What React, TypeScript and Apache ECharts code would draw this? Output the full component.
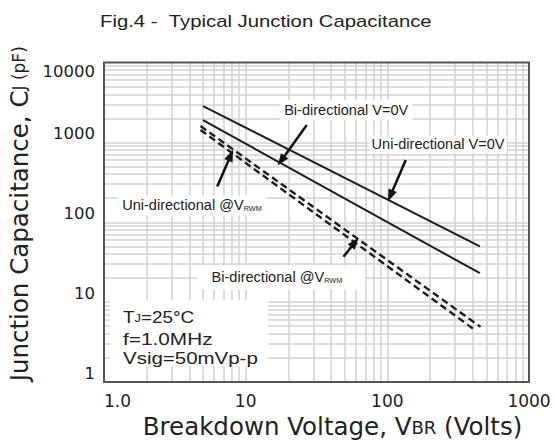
import React, { useEffect, useRef } from 'react';
import * as echarts from 'echarts';

// ---- data ----
const xTickValues = [1, 10, 100, 1000];
const yTickValues = [1, 10, 100, 1000, 10000];
const minorMultipliers = [2, 3, 4, 5, 6, 7, 8, 9];
const xDecades = [1, 10, 100];
const yDecades = [1, 10, 100, 1000];

const uniV0 = [[5, 2850], [450, 50]];
const biV0 = [[5, 1900], [450, 23]];
const biVrwm = [[4.8, 1600], [455, 4.9]];
const uniVrwm = [[4.8, 1430], [410, 4.55]];

// arrows: [from, to] in data coordinates
const arrowBiV0 = [[27, 1650], [17.8, 590]];
const arrowUniV0 = [[135, 600], [105, 215]];
const arrowUniVrwm = [[6.3, 280], [7.85, 690]];
const arrowBiVrwm = [[49, 37], [59, 56]];

const GRID = { left: 104, top: 62.5, right: 27, bottom: 59 };
const GRID_COLOR = '#d2d2d2';
const INK = '#1e1e1e';
const SANS = "'Liberation Sans', Arial, sans-serif";
const WIDE = "'DejaVu Sans', sans-serif";

export default function App() {
  const ref = useRef<HTMLDivElement>(null);
  useEffect(() => {
    const chart = echarts.init(ref.current!, null, { renderer: 'svg' });
    const minorX: number[] = [];
    xDecades.forEach((d) => minorMultipliers.forEach((m) => minorX.push(m * d)));
    const minorY: number[] = [];
    yDecades.forEach((d) => minorMultipliers.forEach((m) => minorY.push(m * d)));

    const W = 556 - GRID.left - GRID.right;
    const H = 441 - GRID.top - GRID.bottom;

    const lineSeries = (name: string, data: number[][], dashed: boolean) => ({
      name,
      type: 'line',
      data,
      symbol: 'none',
      silent: true,
      z: 3,
      lineStyle: dashed ? { color: INK, width: 2.4, type: [7, 4] } : { color: INK, width: 2 },
    });

    const arrows = [arrowBiV0, arrowUniV0, arrowUniVrwm, arrowBiVrwm];

    const labelText = (x: number, y: number, text: string, padding: number[], scaleX = 1.04) => ({
      type: 'text',
      x,
      y,
      z: 21,
      scaleX,
      silent: true,
      style: {
        text,
        align: 'left',
        verticalAlign: 'middle',
        backgroundColor: '#fff',
        padding,
        rich: {
          n: { fontSize: 14, fontFamily: SANS, fill: '#222' },
          s: { fontSize: 7, fontFamily: SANS, fill: '#222', verticalAlign: 'bottom' },
        },
      },
    });

    const tjLine = (y: number, text: string, scaleX: number) => ({
      type: 'text',
      x: 123,
      y,
      z: 22,
      scaleX,
      silent: true,
      style: {
        text,
        align: 'left',
        verticalAlign: 'middle',
        rich: {
          a: { fontSize: 16, fontFamily: SANS, fill: '#222' },
          b: { fontSize: 11, fontFamily: SANS, fill: '#222', verticalAlign: 'bottom', padding: [0, 0, 2, 0] },
        },
      },
    });

    const option: any = {
      animation: false,
      backgroundColor: '#fff',
      grid: { left: GRID.left, top: GRID.top, right: GRID.right, bottom: GRID.bottom, containLabel: false, outerBoundsMode: 'none' },
      xAxis: {
        type: 'log',
        logBase: 10,
        min: xTickValues[0],
        max: xTickValues[xTickValues.length - 1],
        axisLine: { show: false },
        axisTick: { show: false },
        splitLine: { show: true, showMinLine: false, showMaxLine: false, lineStyle: { color: GRID_COLOR, width: 1.5 } },
        axisLabel: {
          fontFamily: WIDE,
          fontSize: 17,
          color: '#222',
          margin: 10,
          alignMinLabel: 'left',
          formatter: (v: number) => (Math.round(v) === 1 ? '1.0' : String(Math.round(v))),
        },
        name: '{a|Breakdown Voltage, V}{b|BR}{a| (Volts)}',
        nameLocation: 'middle',
        nameGap: 32,
        nameTextStyle: {
          padding: [0, 0, 0, 32],
          rich: {
            a: { fontSize: 24.5, fontFamily: WIDE, color: '#222' },
            b: { fontSize: 18, fontFamily: WIDE, color: '#222', verticalAlign: 'bottom', padding: [0, 0, 3, 0] },
          },
        },
      },
      yAxis: {
        type: 'log',
        logBase: 10,
        min: yTickValues[0],
        max: yTickValues[yTickValues.length - 1],
        axisLine: { show: false },
        axisTick: { show: false },
        splitLine: { show: true, showMinLine: false, showMaxLine: false, lineStyle: { color: GRID_COLOR, width: 1.5 } },
        axisLabel: {
          fontFamily: WIDE,
          fontSize: 16.5,
          color: '#222',
          margin: 9,
          verticalAlign: 'bottom',
          verticalAlignMaxLabel: 'top',
          formatter: (v: number) => String(Math.round(v)),
        },
        name: '{a|Junction Capacitance, C}{b|J}{c| (pF)}',
        nameLocation: 'middle',
        nameGap: 67,
        nameTextStyle: {
          padding: [0, 0, 0, 17],
          rich: {
            a: { fontSize: 24.5, fontFamily: WIDE, color: '#222' },
            b: { fontSize: 17, fontFamily: WIDE, color: '#222', verticalAlign: 'bottom', padding: [0, 0, 4, 0] },
            c: { fontSize: 17, fontFamily: WIDE, color: '#222' },
          },
        },
      },
      series: [
        {
          type: 'line',
          data: [[1, 1]],
          symbol: 'none',
          silent: true,
          z: 1,
          lineStyle: { width: 0 },
          markLine: {
            z: 1,
            silent: true,
            symbol: ['none', 'none'],
            label: { show: false },
            emphasis: { disabled: true },
            lineStyle: { color: GRID_COLOR, width: 1.5, type: 'solid' },
            data: [...minorX.map((v) => ({ xAxis: v })), ...minorY.map((v) => ({ yAxis: v }))],
          },
        },
        lineSeries('Uni-directional V=0V', uniV0, false),
        lineSeries('Bi-directional V=0V', biV0, false),
        lineSeries('Bi-directional @VRWM', biVrwm, true),
        lineSeries('Uni-directional @VRWM', uniVrwm, true),
        {
          type: 'line',
          data: [[1, 1]],
          symbol: 'none',
          silent: true,
          z: 4,
          lineStyle: { width: 0 },
          markLine: {
            z: 6,
            silent: true,
            symbol: ['none', 'triangle'],
            symbolSize: [8, 12],
            label: { show: false },
            emphasis: { disabled: true },
            lineStyle: { color: '#111', width: 2.5, type: 'solid' },
            data: arrows.map((a) => [
              { coord: a[0], symbol: 'none' },
              { coord: a[1], symbol: 'triangle', symbolSize: [9, 12] },
            ]),
          },
        },
      ],
      graphic: [
        {
          type: 'text',
          x: 100,
          y: 21,
          scaleX: 1.27,
          z: 21,
          silent: true,
          style: {
            text: 'Fig.4 -\u00a0\u00a0Typical Junction Capacitance',
            fontSize: 16,
            fontFamily: SANS,
            fill: '#222',
            align: 'left',
            verticalAlign: 'middle',
          },
        },
        labelText(280, 110, '{n|Bi-directional V=0V}', [3, 4]),
        labelText(369.5, 144.5, '{n|Uni-directional V=0V}', [2, 2]),
        labelText(118, 205.5, '{n|Uni-directional @V}{s|RWM}', [3, 4]),
        labelText(197, 277.5, '{n|Bi-directional @V}{s|RWM}', [5, 22, 5, 14]),
        {
          type: 'rect',
          z: 20,
          silent: true,
          shape: { x: 110, y: 300, width: 158, height: 66 },
          style: { fill: '#fff' },
        },
        tjLine(318, '{a|T}{b|J}{a|=25°C}', 1.18),
        tjLine(339, '{a|f=1.0MHz}', 1.3),
        tjLine(358.5, '{a|Vsig=50mVp-p}', 1.28),
        {
          type: 'rect',
          z: 30,
          silent: true,
          shape: { x: GRID.left, y: GRID.top, width: W, height: H },
          style: { fill: 'none', stroke: '#555', lineWidth: 2 },
        },
      ],
    };
    chart.setOption(option);
    return () => chart.dispose();
  }, []);
  return (
    <div
      ref={ref}
      style={{ position: 'absolute', left: 0, top: 0, width: 556, height: 441, background: '#fff' }}
    />
  );
}
